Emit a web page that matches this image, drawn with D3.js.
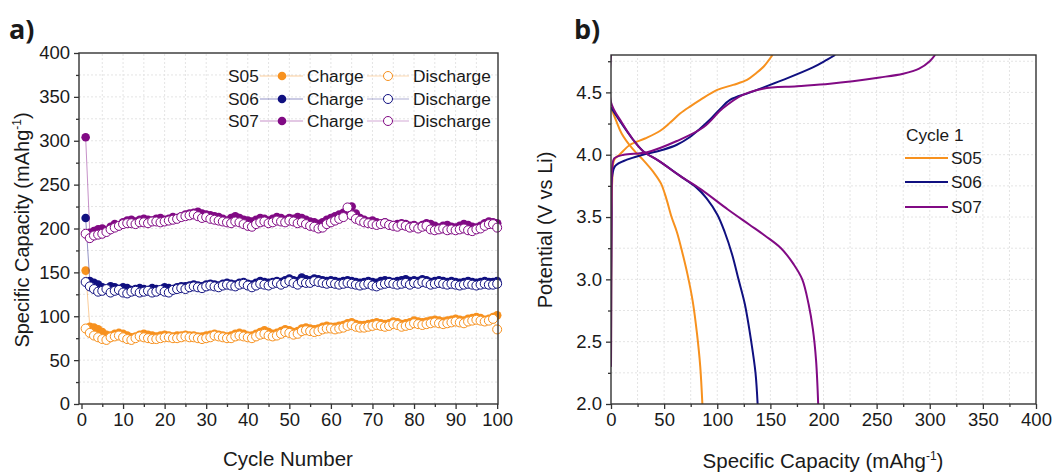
<!DOCTYPE html>
<html>
<head>
<meta charset="utf-8">
<script src="https://cdn.jsdelivr.net/npm/d3@7"></script>
<style>
  body { margin: 0; background: #fff; }
  svg text { font-family: "Liberation Sans", Arial, sans-serif; fill: #1a1a1a; }
</style>
</head>
<body>
<svg id="chart" width="1062" height="472"></svg>
<script>
// ---- data: panel a, capacity per cycle ----
let cycles = d3.range(1, 101);

let s05_charge = [152,88,87,85,82,79,78,80,81,80, 78,76,77,79,80,79,78,77,78,79,
  78,77,78,78,79,78,78,77,77,78, 79,80,79,78,77,78,80,81,80,78,
  78,80,82,84,82,80,81,83,85,84, 82,83,86,87,86,85,86,88,89,88,
  88,89,90,92,93,91,90,90,91,92, 93,92,91,92,94,93,91,92,93,95,
  94,93,94,95,96,95,94,95,96,97, 96,95,97,98,99,98,96,97,99,101];
let s05_discharge = [86,81,78,76,74,73,76,77,78,76, 74,73,75,77,76,75,74,74,75,76,
  76,75,75,76,77,76,76,75,74,75, 76,78,77,76,75,75,77,78,77,76,
  75,77,79,80,78,77,78,80,82,81, 79,80,83,84,83,82,83,85,86,86,
  85,86,87,89,90,88,87,87,88,89, 90,89,88,89,91,90,88,89,90,92,
  91,90,91,92,93,92,91,92,93,94, 93,92,94,95,96,95,94,95,97,85];
let s06_charge = [212,140,138,136,133,131,134,133,131,133, 132,130,131,132,131,130,132,131,130,133,
  132,131,133,134,134,135,136,135,134,136, 137,136,135,137,138,137,136,138,139,137,
  136,138,140,139,138,139,140,139,141,143, 141,140,144,142,141,143,142,141,140,141,
  140,139,140,141,140,139,138,139,140,139, 138,140,141,140,139,140,141,142,140,141,
  140,142,141,139,140,141,140,139,140,139, 138,139,140,139,138,139,140,139,139,140];
let s06_discharge = [139,134,131,128,129,131,127,129,130,127, 126,128,129,127,128,129,127,128,130,128,
  127,130,131,132,131,133,134,133,132,134, 135,134,133,135,136,135,134,136,137,135,
  133,135,137,136,135,137,138,136,138,140, 138,136,139,138,138,140,139,138,137,138,
  137,136,137,138,137,136,135,136,137,135, 134,136,137,138,137,136,137,138,136,138,
  137,139,138,136,137,138,137,136,137,136, 135,136,137,136,135,136,137,136,136,137];
let s07_charge = [304,195,197,199,200,198,202,205,203,207, 209,210,208,210,211,210,209,211,212,210,
  211,213,212,214,216,217,218,219,217,216, 215,214,213,211,209,212,214,212,210,209,
  208,210,212,211,209,211,213,212,210,212, 211,213,212,210,208,207,205,207,210,212,
  214,216,218,222,225,217,212,210,208,209, 207,206,207,205,204,205,206,205,203,204,
  202,204,206,205,203,201,203,204,202,201, 203,205,204,202,201,203,206,208,207,206];
let s07_discharge = [194,189,192,193,194,196,199,201,203,205, 206,206,205,207,207,206,208,208,207,208,
  209,210,211,213,214,215,216,214,212,213, 211,210,209,208,207,206,208,207,205,203,
  202,205,207,208,206,207,209,208,207,209, 208,206,207,205,203,202,200,201,205,207,
  209,211,213,224,215,211,209,207,206,205, 204,205,206,204,203,202,204,203,201,202,
  200,202,203,199,198,199,200,198,199,198, 199,200,198,197,199,200,203,205,205,201];

// ---- data: panel b, cycle 1 voltage profiles [capacity, potential] ----
let s05_c1_charge = [[0,2.3],[0.5,3.4],[1.2,3.8],[3,3.96],[8,4.0],[18,4.08],[32,4.13],[46,4.19],[56,4.26],[65,4.33],[75,4.39],[84,4.44],[100,4.52],[115,4.56],[128,4.6],[136,4.65],[144,4.71],[152,4.8]];
let s05_c1_discharge = [[0,4.38],[5,4.27],[10,4.17],[20,4.05],[30,3.96],[40,3.86],[47,3.77],[52,3.65],[57,3.5],[62,3.38],[67,3.22],[72,3.04],[77,2.82],[81,2.56],[84,2.3],[86,2.0]];
let s06_c1_charge = [[0,2.3],[0.5,3.5],[1,3.82],[4,3.91],[15,3.96],[30,4.0],[49,4.04],[62,4.08],[74,4.14],[84,4.21],[93,4.28],[103,4.37],[112,4.44],[131,4.5],[162,4.6],[190,4.7],[203,4.76],[211,4.8]];
let s06_c1_discharge = [[0,4.38],[10,4.25],[20,4.13],[30,4.03],[45,3.95],[65,3.83],[80,3.74],[90,3.65],[100,3.52],[107,3.38],[114,3.2],[120,3.0],[126,2.8],[132,2.5],[136,2.25],[138,2.0]];
let s07_c1_charge = [[0,2.3],[0.5,3.6],[1.2,3.9],[3,3.97],[12,4.0],[34,4.02],[62,4.11],[87,4.22],[105,4.37],[124,4.48],[143,4.53],[175,4.55],[206,4.57],[253,4.62],[275,4.65],[290,4.69],[300,4.75],[305,4.8]];
let s07_c1_discharge = [[0,4.8],[0,4.42],[10,4.26],[20,4.13],[30,4.03],[45,3.95],[65,3.83],[85,3.72],[110,3.56],[130,3.44],[145,3.35],[160,3.25],[172,3.12],[180,3.0],[186,2.8],[190,2.6],[193,2.35],[195,2.0]];

let samples = ['S05', 'S06', 'S07'];
let colors = {S05: '#f7911e', S06: '#101080', S07: '#810a84'};

let svg = d3.select('#chart');

// ================= panel a =================
let xa = d3.scaleLinear().domain([-0.6, 100.2]).range([79, 498]);
let ya = d3.scaleLinear().domain([0, 400]).range([404, 53]);

function grid(g, x, y, xt, yt) {
  g.selectAll('line.gx').data(xt).enter().append('line')
    .attr('x1', d => x(d)).attr('x2', d => x(d))
    .attr('y1', y.range()[0]).attr('y2', y.range()[1])
    .attr('stroke', '#e4e4e4').attr('stroke-dasharray', '2,2');
  g.selectAll('line.gy').data(yt).enter().append('line')
    .attr('y1', d => y(d)).attr('y2', d => y(d))
    .attr('x1', x.range()[0]).attr('x2', x.range()[1])
    .attr('stroke', '#e4e4e4').attr('stroke-dasharray', '2,2');
}

function axes(g, x, y, xMajor, xMinor, yMajor, yMinor, yFmt) {
  let b = y.range()[0], t = y.range()[1], l = x.range()[0], r = x.range()[1];
  // minor ticks
  g.append('g').attr('transform', 'translate(0,' + b + ')')
    .call(d3.axisBottom(x).tickValues(xMinor).tickSize(3).tickFormat(''))
    .call(s => s.select('.domain').remove());
  g.append('g').attr('transform', 'translate(' + l + ',0)')
    .call(d3.axisLeft(y).tickValues(yMinor).tickSize(3).tickFormat(''))
    .call(s => s.select('.domain').remove());
  // major ticks
  let xa_ = g.append('g').attr('transform', 'translate(0,' + b + ')')
    .call(d3.axisBottom(x).tickValues(xMajor).tickSize(5).tickPadding(4).tickFormat(d3.format('d')));
  let ya_ = g.append('g').attr('transform', 'translate(' + l + ',0)')
    .call(d3.axisLeft(y).tickValues(yMajor).tickSize(5).tickPadding(4).tickFormat(yFmt));
  [xa_, ya_].forEach(s => {
    s.select('.domain').remove();
    s.selectAll('text').style('font-size', '18.5px').attr('fill', '#1a1a1a');
  });
  g.selectAll('.tick line').attr('stroke', '#333').attr('stroke-width', 1.3);
  g.append('rect').attr('x', l).attr('y', t).attr('width', r - l).attr('height', b - t)
    .attr('fill', 'none').attr('stroke', '#333').attr('stroke-width', 1.4);
}

let ga = svg.append('g');
grid(ga, xa, ya, d3.range(5, 100, 5), d3.range(25, 400, 25));

let seriesA = [
  {name: 'S05', charge: s05_charge, discharge: s05_discharge},
  {name: 'S06', charge: s06_charge, discharge: s06_discharge},
  {name: 'S07', charge: s07_charge, discharge: s07_discharge}
];

let lineA = d3.line().x((d, i) => xa(cycles[i])).y(d => ya(d));

seriesA.forEach(function (s) {
  let c = colors[s.name];
  ga.append('path').attr('d', lineA(s.charge)).attr('fill', 'none')
    .attr('stroke', c).attr('stroke-opacity', 0.45).attr('stroke-width', 1);
  ga.append('path').attr('d', lineA(s.discharge)).attr('fill', 'none')
    .attr('stroke', c).attr('stroke-opacity', 0.35).attr('stroke-width', 1);
  ga.append('g').selectAll('circle').data(s.charge).enter().append('circle')
    .attr('cx', (d, i) => xa(cycles[i])).attr('cy', d => ya(d)).attr('r', 4.3)
    .attr('fill', c);
  ga.append('g').selectAll('circle').data(s.discharge).enter().append('circle')
    .attr('cx', (d, i) => xa(cycles[i])).attr('cy', d => ya(d)).attr('r', 4.5)
    .attr('fill', '#fff').attr('stroke', c).attr('stroke-width', 1);
});

axes(ga, xa, ya, d3.range(0, 101, 10), d3.range(5, 100, 10), d3.range(0, 401, 50), d3.range(25, 400, 50), d3.format('d'));

// legend a
let legRows = [76, 99, 121];
samples.forEach(function (s, i) {
  let y = legRows[i], c = colors[s];
  let lg = ga.append('g');
  lg.append('text').attr('x', 228).attr('y', y + 6).text(s).style('font-size', '17.3px');
  lg.append('line').attr('x1', 260).attr('x2', 303).attr('y1', y).attr('y2', y)
    .attr('stroke', c).attr('stroke-opacity', 0.45);
  lg.append('circle').attr('cx', 282).attr('cy', y).attr('r', 4.3).attr('fill', c);
  lg.append('text').attr('x', 307).attr('y', y + 6).text('Charge').style('font-size', '17.3px');
  lg.append('line').attr('x1', 367).attr('x2', 409).attr('y1', y).attr('y2', y)
    .attr('stroke', c).attr('stroke-opacity', 0.35);
  lg.append('circle').attr('cx', 388).attr('cy', y).attr('r', 4.5)
    .attr('fill', '#fff').attr('stroke', c);
  lg.append('text').attr('x', 413).attr('y', y + 6).text('Discharge').style('font-size', '17.3px');
});

// titles a
svg.append('text').attr('x', 9).attr('y', 39).text('a)')
  .style('font-size', '27px').style('font-weight', 'bold').style('font-family', '"Open Sans", sans-serif');
svg.append('text').attr('x', 288).attr('y', 466).attr('text-anchor', 'middle')
  .text('Cycle Number').style('font-size', '20.5px');
let yta = svg.append('text').attr('transform', 'translate(29,230) rotate(-90)')
  .attr('text-anchor', 'middle').style('font-size', '20px');
yta.append('tspan').text('Specific Capacity (mAhg');
yta.append('tspan').text('-1').attr('dy', -8).style('font-size', '12px');
yta.append('tspan').text(')').attr('dy', 8);

// ================= panel b =================
let xb = d3.scaleLinear().domain([0, 400]).range([611, 1036]);
let yb = d3.scaleLinear().domain([2, 4.8]).range([404, 55]);

let gb = svg.append('g');
grid(gb, xb, yb, d3.range(25, 400, 25), d3.range(2.25, 4.8, 0.25));

let seriesB = [
  {name: 'S05', charge: s05_c1_charge, discharge: s05_c1_discharge},
  {name: 'S06', charge: s06_c1_charge, discharge: s06_c1_discharge},
  {name: 'S07', charge: s07_c1_charge, discharge: s07_c1_discharge}
];

let lineB = d3.line().x(d => xb(d[0])).y(d => yb(d[1])).curve(d3.curveCatmullRom.alpha(0.5));

gb.append('clipPath').attr('id', 'clipb').append('rect')
  .attr('x', 611).attr('y', 55).attr('width', 425).attr('height', 349);

seriesB.forEach(function (s) {
  let c = colors[s.name];
  gb.append('path').attr('d', lineB(s.charge)).attr('fill', 'none')
    .attr('stroke', c).attr('stroke-width', 2).attr('clip-path', 'url(#clipb)');
  gb.append('path').attr('d', lineB(s.discharge)).attr('fill', 'none')
    .attr('stroke', c).attr('stroke-width', 2).attr('clip-path', 'url(#clipb)');
});

axes(gb, xb, yb, d3.range(0, 401, 50), d3.range(25, 400, 50), [2, 2.5, 3, 3.5, 4, 4.5], [2.25, 2.75, 3.25, 3.75, 4.25, 4.75], d3.format('.1f'));

// legend b
gb.append('text').attr('x', 906).attr('y', 141).text('Cycle 1').style('font-size', '17.3px');
samples.forEach(function (s, i) {
  let y = [158, 182, 207][i];
  gb.append('line').attr('x1', 905).attr('x2', 948).attr('y1', y).attr('y2', y)
    .attr('stroke', colors[s]).attr('stroke-width', 2);
  gb.append('text').attr('x', 951).attr('y', y + 6).text(s).style('font-size', '17.3px');
});

svg.append('text').attr('x', 574).attr('y', 39).text('b)')
  .style('font-size', '27px').style('font-weight', 'bold').style('font-family', '"Open Sans", sans-serif');
let xtb = svg.append('text').attr('x', 823).attr('y', 468).attr('text-anchor', 'middle').style('font-size', '20.5px');
xtb.append('tspan').text('Specific Capacity (mAhg');
xtb.append('tspan').text('-1').attr('dy', -8).style('font-size', '12px');
xtb.append('tspan').text(')').attr('dy', 8);
svg.append('text').attr('transform', 'translate(552,230) rotate(-90)')
  .attr('text-anchor', 'middle').style('font-size', '20px').text('Potential (V vs Li)');
</script>
</body>
</html>
